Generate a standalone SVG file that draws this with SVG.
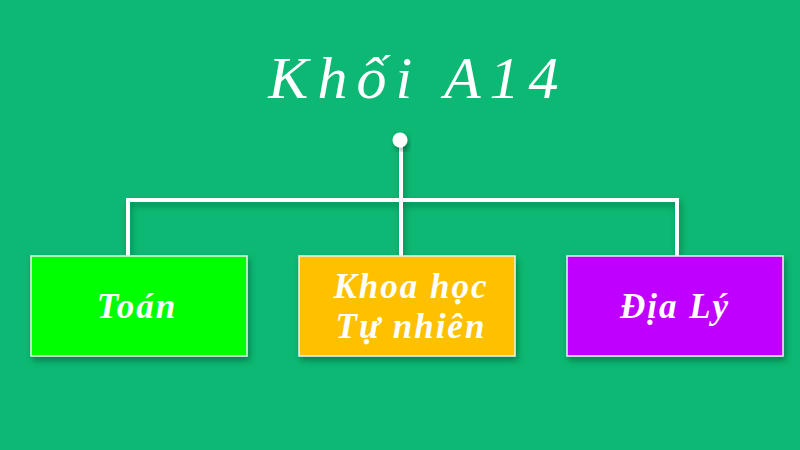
<svg xmlns="http://www.w3.org/2000/svg" width="800" height="450" viewBox="0 0 800 450">
<defs>
<filter id="sh" x="-10%" y="-10%" width="130%" height="140%">
<feDropShadow dx="2" dy="4" stdDeviation="3" flood-color="#000" flood-opacity="0.3"/>
</filter>
<style>
.box{stroke:#e8f5ee;stroke-width:1.5;filter:url(#sh)}
.lbl{font-family:"Liberation Serif","DejaVu Serif",serif;font-style:italic;font-weight:bold;font-size:35px;letter-spacing:2px;fill:#fff;text-anchor:middle}
.ln{stroke:#fff;stroke-width:4;fill:none;filter:url(#sh)}
</style>
</defs>
<rect width="800" height="450" fill="#0cb873"/>
<text x="418" y="98" font-family="'Liberation Serif','DejaVu Serif',serif" font-style="italic" font-size="60" fill="#fff" text-anchor="middle" letter-spacing="9">Khối A14</text>
<g id="connectors">
<path class="ln" d="M401,140 V256 M128,256 V200 H677 V256"/>
<circle cx="400" cy="140" r="7.5" fill="#fff" filter="url(#sh)"/>
</g>
<g id="toan">
<rect class="box" x="31" y="256" width="216" height="100" fill="#00ff00"/>
<text class="lbl" x="137" y="318">Toán</text>
</g>
<g id="khoahoc">
<rect class="box" x="299" y="256" width="216" height="100" fill="#ffc000"/>
<text class="lbl" x="411" y="298">Khoa học</text>
<text class="lbl" x="411" y="338">Tự nhiên</text>
</g>
<g id="dialy">
<rect class="box" x="567" y="256" width="216" height="100" fill="#bf00ff"/>
<text class="lbl" x="675" y="318">Địa Lý</text>
</g>
</svg>
